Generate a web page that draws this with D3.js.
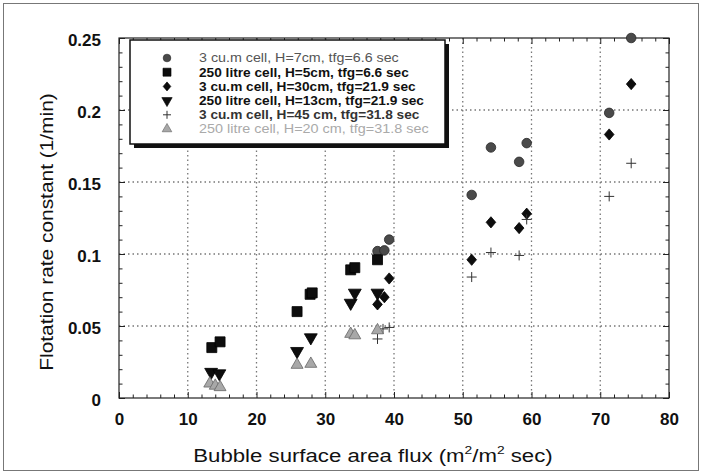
<!DOCTYPE html>
<html><head><meta charset="utf-8">
<script src="https://cdn.jsdelivr.net/npm/d3@7"></script>
<style>html,body{margin:0;padding:0;background:#fff;}svg{display:block;font-family:Arial,"Liberation Sans",sans-serif;}</style>
</head><body>
<svg id="c" width="702" height="474"></svg>
<script>
// ---- data ----
const seriesNames = [
  "3 cu.m cell, H=7cm, tfg=6.6 sec",
  "250 litre cell, H=5cm, tfg=6.6 sec",
  "3 cu.m cell, H=30cm, tfg=21.9 sec",
  "250 litre cell, H=13cm, tfg=21.9 sec",
  "3 cu.m cell, H=45 cm, tfg=31.8 sec",
  "250 litre cell, H=20 cm, tfg=31.8 sec"
];
const circ7cm = [[37.6,0.102],[38.6,0.1025],[39.3,0.110],[51.3,0.141],[54.1,0.174],[58.2,0.164],[59.3,0.177],[71.3,0.198],[74.5,0.250]];
const sq5cm = [[13.5,0.035],[14.7,0.039],[25.9,0.060],[27.8,0.072],[28.1,0.073],[33.7,0.089],[34.3,0.0905],[37.6,0.096]];
const dia30cm = [[37.6,0.065],[38.6,0.070],[39.3,0.083],[51.3,0.096],[54.1,0.122],[58.2,0.118],[59.3,0.128],[71.3,0.183],[74.5,0.218]];
const tri13cm = [[13.4,0.018],[14.6,0.017],[25.9,0.0325],[27.9,0.042],[33.7,0.066],[34.3,0.073],[37.6,0.073]];
const plus45cm = [[37.6,0.041],[38.4,0.048],[39.3,0.049],[51.3,0.084],[54.1,0.101],[58.2,0.099],[59.3,0.124],[71.3,0.140],[74.5,0.163]];
const triup20cm = [[13.2,0.010],[14.0,0.0085],[14.7,0.0075],[25.9,0.023],[27.9,0.0237],[33.7,0.0445],[34.3,0.0435],[37.6,0.047]];
const xTicks = [0,10,20,30,40,50,60,70,80];
const yTicks = [0,0.05,0.1,0.15,0.2,0.25];
const yTickLabels = ["0","0.05","0.1","0.15","0.2","0.25"];
const xTitle = "Bubble surface area flux (m";
const yTitle = "Flotation rate constant (1/min)";

// ---- layout ----
const svg = d3.select("#c");
const FONT = "Arial, 'Liberation Sans', sans-serif";
const L = 119, R = 669, T = 38, B = 398;
const x = d3.scaleLinear().domain([0,80]).range([L,R]);
const y = d3.scaleLinear().domain([0,0.25]).range([B,T]);

// outer border
svg.append("rect").attr("x",3.5).attr("y",3.5).attr("width",695).attr("height",467)
  .attr("fill","none").attr("stroke","#777").attr("stroke-width",1);

// grid
const g = svg.append("g");
g.selectAll(".gx").data(xTicks.slice(1,-1)).join("line")
  .attr("x1",d=>x(d)).attr("x2",d=>x(d)).attr("y1",T).attr("y2",B)
  .attr("stroke","#777").attr("stroke-dasharray","1.5,3").attr("stroke-width",1.3);
g.selectAll(".gy").data(yTicks.slice(1,-1)).join("line")
  .attr("y1",d=>y(d)).attr("y2",d=>y(d)).attr("x1",L).attr("x2",R)
  .attr("stroke","#777").attr("stroke-dasharray","1.5,3").attr("stroke-width",1.3);

// axes (inward ticks on all sides)
const xMinor = d3.range(0,81,2).filter(v=>v%10!==0);
const yMinor = d3.range(0,26,1).map(v=>v/100).filter((v,i)=>i%5!==0);
function addAxis(axisGen, transform){
  return svg.append("g").attr("transform",transform).call(axisGen)
    .call(s=>s.select(".domain").remove());
}
const tickStyle = s=>s.selectAll("line").attr("stroke","#222").attr("stroke-width",1);
const xb = addAxis(d3.axisBottom(x).tickValues(xTicks).tickSize(-6).tickPadding(15).tickFormat(d3.format("d")), `translate(0,${B})`);
xb.attr("font-family",FONT);
xb.selectAll("text").attr("font-size",17).attr("font-weight","bold").attr("fill","#111").attr("dy","0.71em");
tickStyle(xb);
addAxis(d3.axisBottom(x).tickValues(xMinor).tickSize(-3.5).tickFormat(""), `translate(0,${B})`).call(tickStyle);
addAxis(d3.axisTop(x).tickValues(xTicks).tickSize(-6).tickFormat(""), `translate(0,${T})`).call(tickStyle);
addAxis(d3.axisTop(x).tickValues(xMinor).tickSize(-3.5).tickFormat(""), `translate(0,${T})`).call(tickStyle);
const yl = addAxis(d3.axisLeft(y).tickValues(yTicks).tickSize(-6).tickPadding(18).tickFormat((d,i)=>yTickLabels[i]), `translate(${L},0)`);
yl.attr("font-family",FONT);
yl.selectAll("text").attr("font-size",17).attr("font-weight","bold").attr("fill","#111").attr("dy","0.45em");
tickStyle(yl);
addAxis(d3.axisLeft(y).tickValues(yMinor).tickSize(-3.5).tickFormat(""), `translate(${L},0)`).call(tickStyle);
addAxis(d3.axisRight(y).tickValues(yTicks).tickSize(-6).tickFormat(""), `translate(${R},0)`).call(tickStyle);
addAxis(d3.axisRight(y).tickValues(yMinor).tickSize(-3.5).tickFormat(""), `translate(${R},0)`).call(tickStyle);

// frame
svg.append("rect").attr("x",L).attr("y",T).attr("width",R-L).attr("height",B-T)
  .attr("fill","none").attr("stroke","#222").attr("stroke-width",1.2);

// titles
const xt = svg.append("text").attr("transform","translate(373,462) scale(1.2,1)").attr("text-anchor","middle")
  .attr("font-size",18.5).attr("fill","#111").text(xTitle);
xt.append("tspan").attr("font-size",11.5).attr("dy",-8).text("2");
xt.append("tspan").attr("dy",8).text("/m");
xt.append("tspan").attr("font-size",11.5).attr("dy",-8).text("2");
xt.append("tspan").attr("dy",8).text(" sec)");
svg.append("text").attr("transform","translate(53,232) rotate(-90) scale(1.13,1)").attr("text-anchor","middle")
  .attr("font-size",18.5).attr("fill","#111").text(yTitle);

// symbols
const diamondPath = "M0,-5.6L4.8,0L0,5.6L-4.8,0Z";
const sym = {
  circle: d3.symbol().type(d3.symbolCircle).size(72),
  square: d3.symbol().type(d3.symbolSquare).size(100),
  triDown: d3.symbol().type(d3.symbolTriangle).size(72),
  triUp: d3.symbol().type(d3.symbolTriangle).size(62)
};
const styles = [
  {data:circ7cm, kind:"circle", fill:"#4a4a4a", stroke:"#2a2a2a", rot:0, text:"#555", weight:"normal", sx:1.19},
  {data:sq5cm, kind:"square", fill:"#0d0d0d", stroke:"#000", rot:0, text:"#111", weight:"bold", sx:1.14},
  {data:dia30cm, kind:"diamond", fill:"#0d0d0d", stroke:"#000", rot:0, text:"#111", weight:"bold", sx:1.14},
  {data:tri13cm, kind:"triDown", fill:"#0d0d0d", stroke:"#000", rot:180, text:"#111", weight:"bold", sx:1.14},
  {data:plus45cm, kind:"plus", fill:"none", stroke:"#333", rot:0, text:"#333", weight:"bold", sx:1.14},
  {data:triup20cm, kind:"triUp", fill:"#a8a8a8", stroke:"#666", rot:0, text:"#aaa", weight:"normal", sx:1.2}
];
function drawMarker(sel, st, scale){
  scale = scale||1;
  if(st.kind==="plus"){
    const h=5*scale;
    sel.append("path").attr("d",`M${-h},0H${h}M0,${-h}V${h}`).attr("stroke",st.stroke).attr("stroke-width",1).attr("fill","none");
  } else {
    const d = st.kind==="diamond" ? diamondPath : sym[st.kind]();
    sel.append("path").attr("d",d).attr("transform",`rotate(${st.rot}) scale(${scale})`)
      .attr("fill",st.fill).attr("stroke",st.stroke).attr("stroke-width",0.8);
  }
}
styles.forEach(st=>{
  const gg = svg.append("g");
  st.data.forEach(d=>{
    const m = gg.append("g").attr("transform",`translate(${x(d[0])},${y(d[1])})`);
    drawMarker(m, st, 1);
  });
});

// legend
const lx=130, ly=40, lw=315, lh=104;
svg.append("rect").attr("x",lx+4).attr("y",ly+4).attr("width",lw).attr("height",lh).attr("fill","#111");
svg.append("rect").attr("x",lx).attr("y",ly).attr("width",lw).attr("height",lh).attr("fill","#fff").attr("stroke","#111").attr("stroke-width",1.5);
styles.forEach((st,i)=>{
  const yy = ly+18+i*14.2;
  const m = svg.append("g").attr("transform",`translate(${lx+37},${yy})`);
  drawMarker(m, st, 0.8);
  svg.append("text").attr("transform",`translate(${lx+69},${yy+4.3}) scale(${st.sx},1)`).attr("font-size",12)
    .attr("font-weight",st.weight).attr("fill",st.text).text(seriesNames[i]);
});
</script>
</body></html>
